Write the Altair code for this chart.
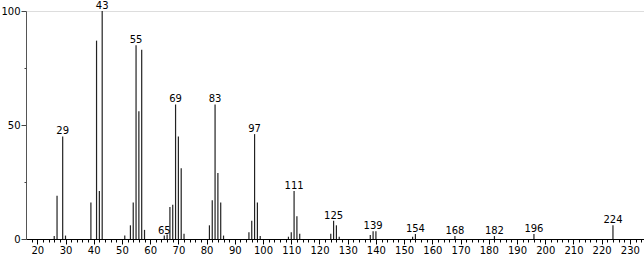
import altair as alt
import pandas as pd

mz = [26, 27, 29, 30, 39, 41, 42, 43, 51, 53, 54, 55, 56, 57, 58, 65, 66, 67, 68,
      69, 70, 71, 72, 81, 82, 83, 84, 85, 86, 95, 96, 97, 98, 99, 109, 110, 111,
      112, 113, 124, 125, 126, 127, 138, 139, 140, 153, 154, 168, 182, 196, 224]
intensity = [1.3, 19, 45, 1.5, 16, 87, 21, 100, 1.5, 6, 16, 85, 56, 83, 4, 1.5, 2, 14, 15,
             59, 45, 31, 2.3, 6, 17, 59, 29, 16, 1.5, 3, 8, 46, 16, 1.3, 1, 3, 21,
             10, 2.3, 2.3, 8, 6, 1, 1.7, 3.4, 3.4, 1, 2.2, 1.3, 1.3, 2.2, 6]
labeled = [29, 43, 55, 65, 69, 83, 97, 111, 125, 139, 154, 168, 182, 196, 224]

x_major = list(range(20, 231, 10))
x_minor = [v for v in range(18, 235, 2) if v % 10 != 0]
y_major = [0, 50, 100]
y_minor = [25, 75]

df = pd.DataFrame({"mz": mz, "inten": intensity})
df["label"] = df["mz"].astype(str)
lab_df = df[df["mz"].isin(labeled)]

FONT = "DejaVu Sans"
xscale = alt.Scale(domain=[16, 235], nice=False, zero=False)
yscale = alt.Scale(domain=[0, 100], nice=False)

bars = alt.Chart(df).mark_rule(color="#222", strokeWidth=1.2).encode(
    x=alt.X("mz:Q", scale=xscale, axis=alt.Axis(
        title=None, values=x_major, tickSize=5, tickColor="black",
        domainColor="black", labelColor="black", labelFont=FONT,
        labelFontSize=10, labelPadding=1, labelFlush=False,
        labelOverlap=False, grid=False, orient="bottom")),
    y=alt.Y("inten:Q", scale=yscale, axis=alt.Axis(
        title=None, values=y_major, tickSize=5, tickColor="#444",
        domainColor="#555", labelColor="black", labelFont=FONT,
        labelFontSize=10, labelPadding=1, labelFlush=False,
        labelOverlap=False, grid=False, orient="left")),
    y2=alt.datum(0),
)

texts = alt.Chart(lab_df).mark_text(
    baseline="alphabetic", dy=-2, font=FONT, fontSize=10, color="black"
).encode(
    x=alt.X("mz:Q", scale=xscale, axis=alt.Axis(
        title=None, values=x_minor, tickSize=3, tickColor="black",
        domain=False, labels=False, grid=False, orient="bottom")),
    y=alt.Y("inten:Q", scale=yscale, axis=alt.Axis(
        title=None, values=y_minor, tickSize=2, tickColor="#444",
        domain=False, labels=False, grid=False, orient="left")),
    text="label:N",
)

chart = (
    alt.layer(bars, texts)
    .resolve_axis(x="independent", y="independent")
    .resolve_scale(x="shared", y="shared")
    .properties(
        width=618,
        height=228,
        autosize=alt.AutoSizeParams(type="none"),
        padding={"left": 26, "top": 11, "right": 0, "bottom": 17},
    )
    .configure_view(stroke=None)
    .configure(background="white")
)

chart.save("out.html", embed_options={"renderer": "svg", "actions": False})
